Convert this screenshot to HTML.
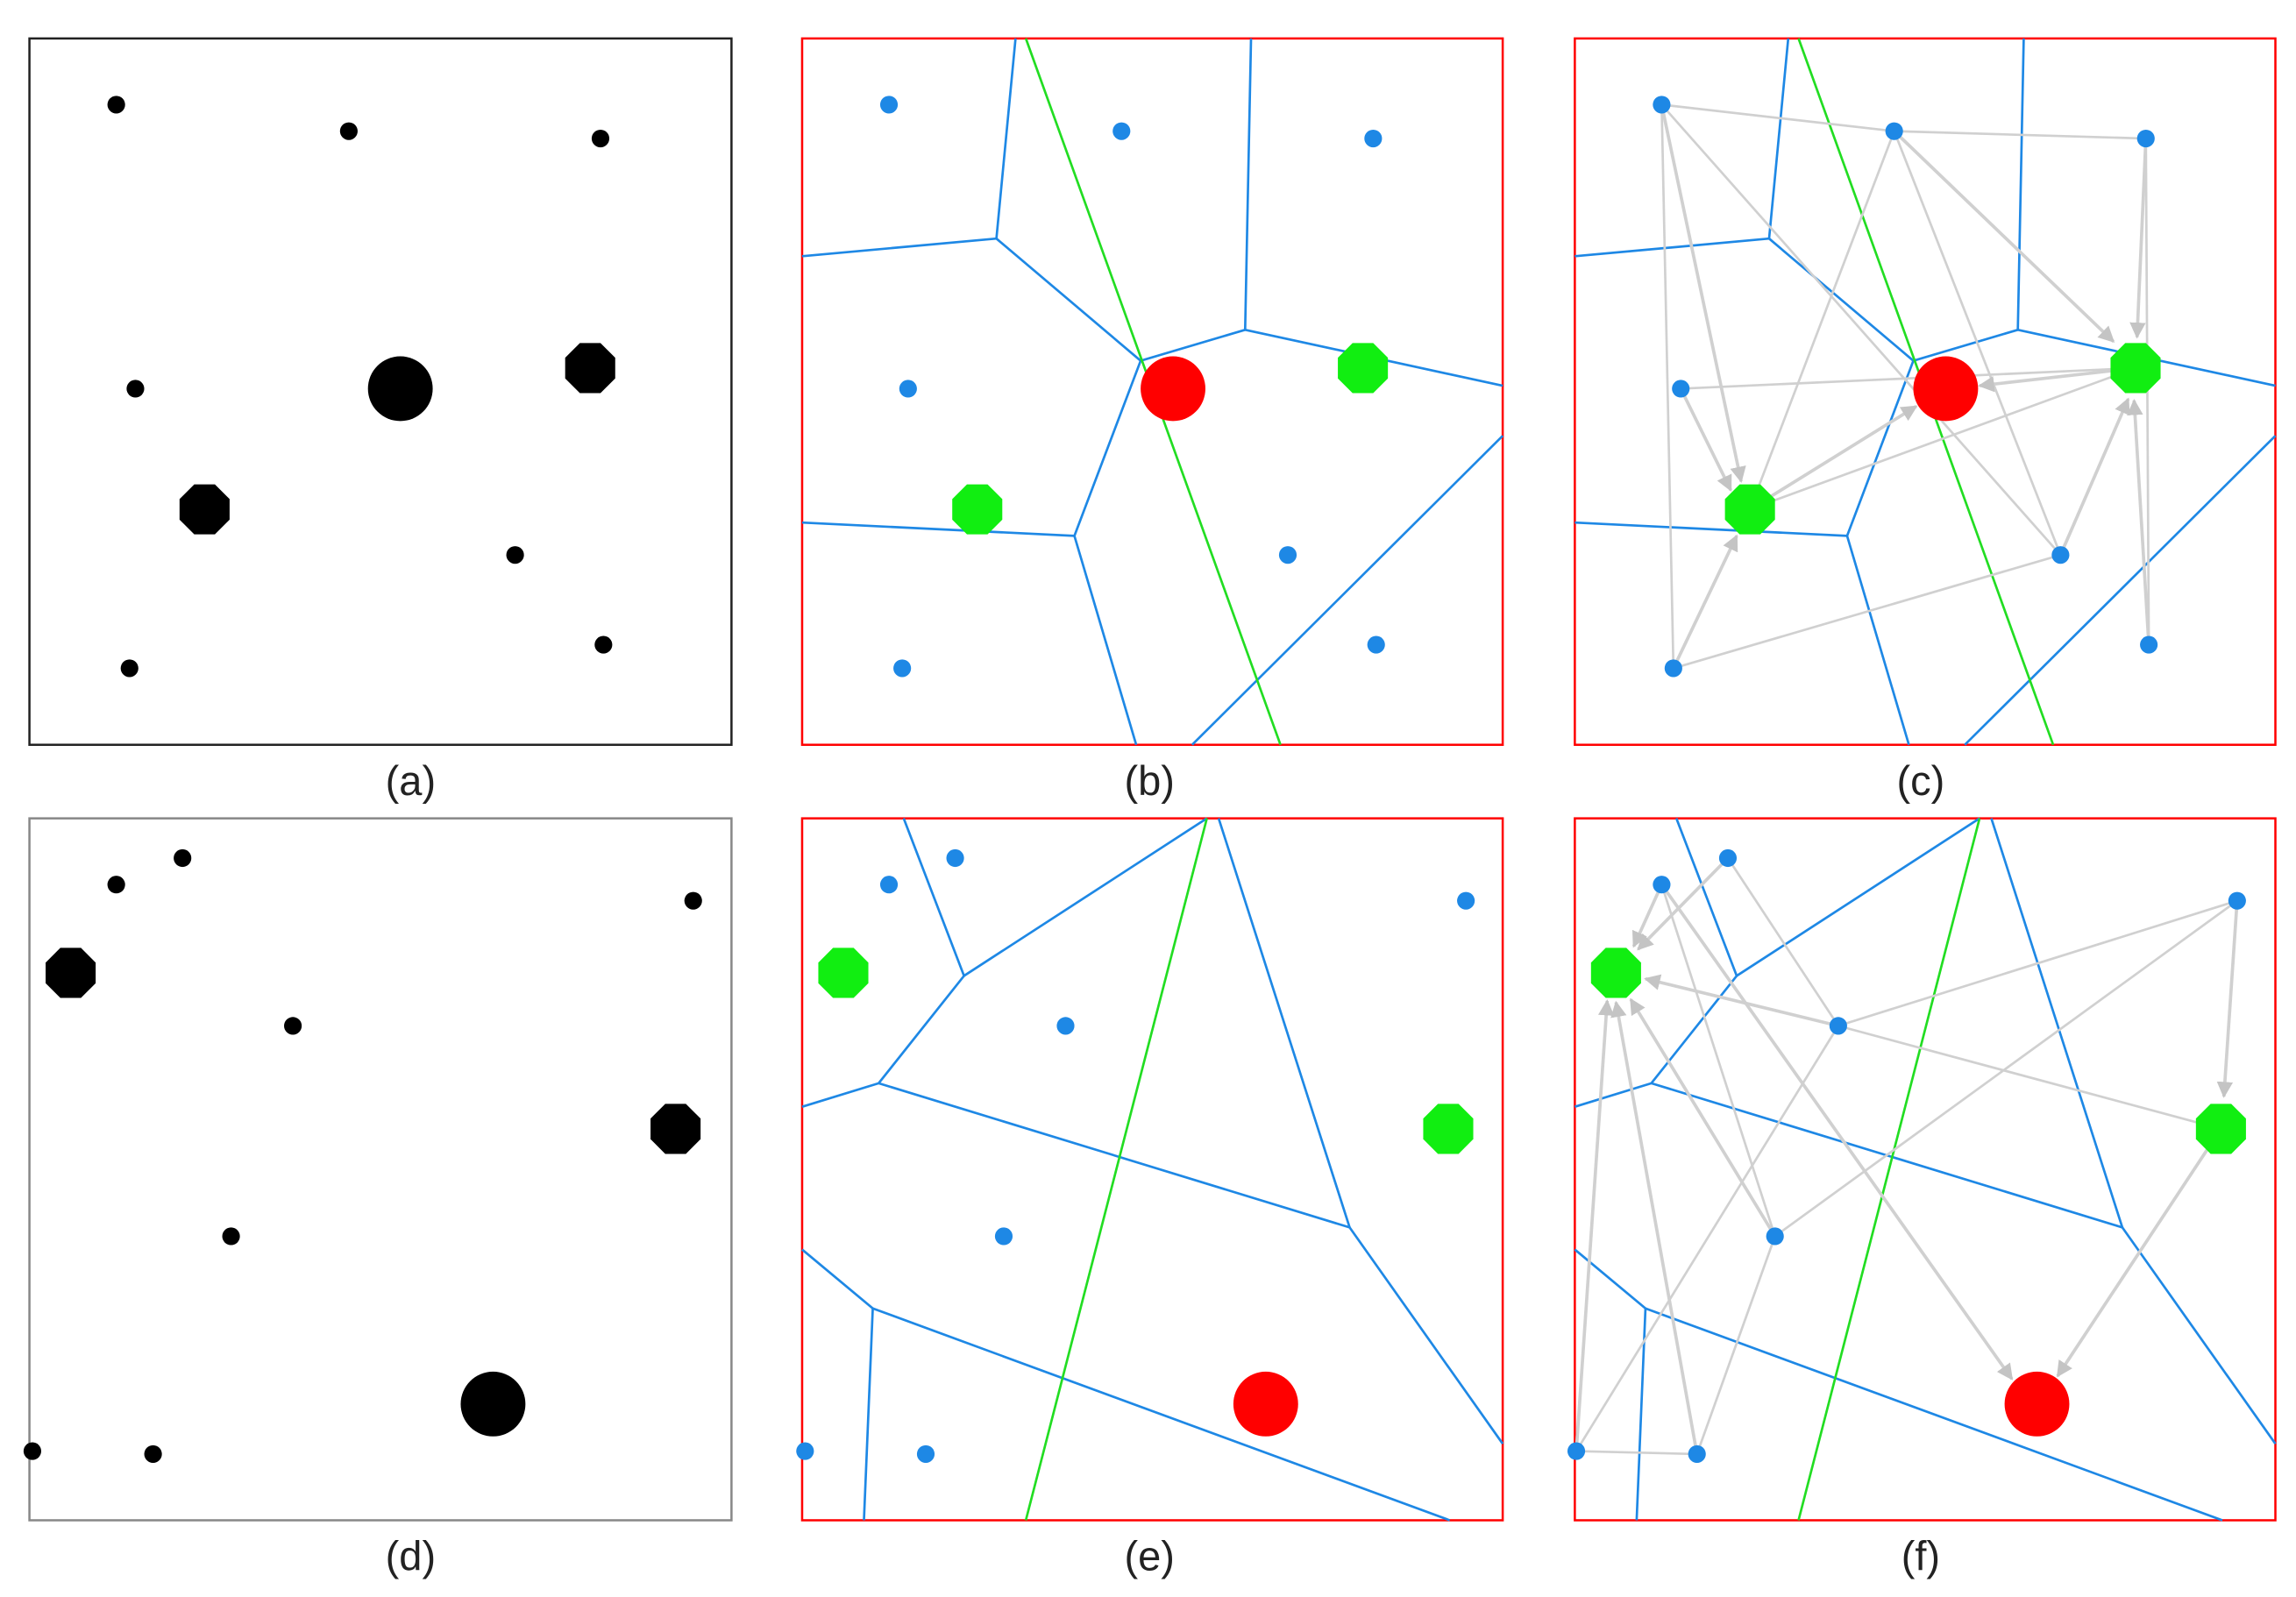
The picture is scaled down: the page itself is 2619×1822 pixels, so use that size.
<!DOCTYPE html>
<html><head><meta charset="utf-8"><style>
html,body{margin:0;padding:0;background:#fff;width:2619px;height:1822px;overflow:hidden}
svg{display:block}
text{font-family:"Liberation Sans",sans-serif;font-size:28px;fill:#222}
</style></head><body>
<svg width="2619" height="1822" viewBox="0 0 1560 1085" xmlns="http://www.w3.org/2000/svg">
<defs>
<marker id="ar" viewBox="0 0 10 10" refX="9" refY="5" markerWidth="5" markerHeight="5" orient="auto"><path d="M0,0L10,5L0,10z" fill="#c4c4c4"/></marker>
<polygon id="oct" points="7,-17 17,-7 17,7 7,17 -7,17 -17,7 -17,-7 -7,-17"/>
</defs>
<rect x="20" y="26" width="477" height="480" fill="none" stroke="#222" stroke-width="1.5"/>
<rect x="545" y="26" width="476" height="480" fill="none" stroke="#f00" stroke-width="1.5"/>
<rect x="1070" y="26" width="476" height="480" fill="none" stroke="#f00" stroke-width="1.5"/>
<rect x="20" y="556" width="477" height="477" fill="none" stroke="#888" stroke-width="1.5"/>
<rect x="545" y="556" width="476" height="477" fill="none" stroke="#f00" stroke-width="1.5"/>
<rect x="1070" y="556" width="476" height="477" fill="none" stroke="#f00" stroke-width="1.5"/>
<text x="279" y="540" text-anchor="middle">(a)</text>
<text x="781" y="540" text-anchor="middle">(b)</text>
<text x="1305" y="540" text-anchor="middle">(c)</text>
<text x="279" y="1067" text-anchor="middle">(d)</text>
<text x="781" y="1067" text-anchor="middle">(e)</text>
<text x="1305" y="1067" text-anchor="middle">(f)</text>
<g fill="#000">
<circle cx="79" cy="71" r="6"/><circle cx="237" cy="89" r="6"/><circle cx="408" cy="94" r="6"/><circle cx="92" cy="264" r="6"/><circle cx="350" cy="377" r="6"/><circle cx="410" cy="438" r="6"/><circle cx="88" cy="454" r="6"/>
<circle cx="272" cy="264" r="22"/><use href="#oct" x="401" y="250"/><use href="#oct" x="139" y="346"/>
</g>
<g id="bl" fill="none" stroke-width="1.6">
<polyline stroke="#1e88e5" points="690,26 677,162 545,174"/>
<line stroke="#1e88e5" x1="677" y1="162" x2="775" y2="245"/>
<polyline stroke="#1e88e5" points="850,26 846,224 1021,262"/>
<polyline stroke="#1e88e5" points="846,224 775,245 730,364 545,355"/>
<line stroke="#1e88e5" x1="730" y1="364" x2="772" y2="506"/>
<line stroke="#1e88e5" x1="810" y1="506" x2="1021" y2="296"/>
<line stroke="#22dd22" x1="697" y1="26" x2="870" y2="506"/>
</g>
<use href="#bl" x="525"/>
<g stroke="#d0d0d0" stroke-width="1.6" fill="none">
<line x1="1129" y1="71" x2="1287" y2="89"/><line x1="1287" y1="89" x2="1458" y2="94"/>
<line x1="1129" y1="71" x2="1400" y2="377"/><line x1="1287" y1="89" x2="1189" y2="346"/>
<line x1="1142" y1="264" x2="1451" y2="250"/><line x1="1137" y1="454" x2="1400" y2="377"/>
<line x1="1458" y1="94" x2="1460" y2="438"/><line x1="1129" y1="71" x2="1137" y2="454"/>
<line x1="1189" y1="346" x2="1451" y2="250"/><line x1="1287" y1="89" x2="1400" y2="377"/>
<g marker-end="url(#ar)" stroke-width="2.2">
<line x1="1129" y1="71" x2="1183" y2="327"/>
<line x1="1142" y1="264" x2="1176" y2="333"/>
<line x1="1137" y1="454" x2="1180" y2="364"/>
<line x1="1287" y1="89" x2="1436" y2="232"/>
<line x1="1458" y1="94" x2="1452" y2="229"/>
<line x1="1400" y1="377" x2="1446" y2="271"/>
<line x1="1460" y1="438" x2="1450" y2="272"/>
<line x1="1451" y1="250" x2="1345" y2="262"/>
<line x1="1189" y1="346" x2="1302" y2="276"/>
</g></g>
<g fill="#1e88e5">
<circle cx="604" cy="71" r="6"/><circle cx="762" cy="89" r="6"/><circle cx="933" cy="94" r="6"/><circle cx="617" cy="264" r="6"/><circle cx="875" cy="377" r="6"/><circle cx="935" cy="438" r="6"/><circle cx="613" cy="454" r="6"/>
<circle cx="1129" cy="71" r="6"/><circle cx="1287" cy="89" r="6"/><circle cx="1458" cy="94" r="6"/><circle cx="1142" cy="264" r="6"/><circle cx="1400" cy="377" r="6"/><circle cx="1460" cy="438" r="6"/><circle cx="1137" cy="454" r="6"/>
</g>
<circle cx="797" cy="264" r="22" fill="#f00"/><circle cx="1322" cy="264" r="22" fill="#f00"/>
<g fill="#11ee11"><use href="#oct" x="926" y="250"/><use href="#oct" x="664" y="346"/><use href="#oct" x="1451" y="250"/><use href="#oct" x="1189" y="346"/></g>
<g fill="#000">
<circle cx="79" cy="601" r="6"/><circle cx="124" cy="583" r="6"/><circle cx="471" cy="612" r="6"/><circle cx="199" cy="697" r="6"/><circle cx="157" cy="840" r="6"/><circle cx="22" cy="986" r="6"/><circle cx="104" cy="988" r="6"/>
<circle cx="335" cy="954" r="22"/><use href="#oct" x="48" y="661"/><use href="#oct" x="459" y="767"/>
</g>
<g id="el" fill="none" stroke-width="1.6">
<polyline stroke="#1e88e5" points="614,556 655,663 820,556"/>
<polyline stroke="#1e88e5" points="655,663 597,736 545,752"/>
<polyline stroke="#1e88e5" points="597,736 917,834 828,556"/>
<line stroke="#1e88e5" x1="917" y1="834" x2="1021" y2="981"/>
<polyline stroke="#1e88e5" points="545,849 593,889 587,1033"/>
<line stroke="#1e88e5" x1="593" y1="889" x2="985" y2="1033"/>
<line stroke="#22dd22" x1="820" y1="556" x2="697" y2="1033"/>
</g>
<use href="#el" x="525"/>
<g stroke="#d0d0d0" stroke-width="1.6" fill="none">
<line x1="1174" y1="583" x2="1249" y2="697"/><line x1="1520" y1="612" x2="1249" y2="697"/>
<line x1="1249" y1="697" x2="1509" y2="767"/><line x1="1206" y1="840" x2="1520" y2="612"/>
<line x1="1071" y1="986" x2="1153" y2="988"/><line x1="1206" y1="840" x2="1153" y2="988"/>
<line x1="1071" y1="986" x2="1249" y2="697"/>
<line x1="1129" y1="601" x2="1206" y2="840"/>
<g marker-end="url(#ar)" stroke-width="2.2">
<line x1="1129" y1="601" x2="1110" y2="643"/>
<line x1="1174" y1="583" x2="1113" y2="645"/>
<line x1="1249" y1="697" x2="1118" y2="665"/>
<line x1="1520" y1="612" x2="1511" y2="745"/>
<line x1="1129" y1="601" x2="1367" y2="937"/>
<line x1="1509" y1="767" x2="1398" y2="935"/>
<line x1="1071" y1="986" x2="1092" y2="680"/>
<line x1="1153" y1="988" x2="1098" y2="681"/>
<line x1="1206" y1="840" x2="1108" y2="679"/>
</g></g>
<g fill="#1e88e5">
<circle cx="604" cy="601" r="6"/><circle cx="649" cy="583" r="6"/><circle cx="996" cy="612" r="6"/><circle cx="724" cy="697" r="6"/><circle cx="682" cy="840" r="6"/><circle cx="547" cy="986" r="6"/><circle cx="629" cy="988" r="6"/>
<circle cx="1129" cy="601" r="6"/><circle cx="1174" cy="583" r="6"/><circle cx="1520" cy="612" r="6"/><circle cx="1249" cy="697" r="6"/><circle cx="1206" cy="840" r="6"/><circle cx="1071" cy="986" r="6"/><circle cx="1153" cy="988" r="6"/>
</g>
<circle cx="860" cy="954" r="22" fill="#f00"/><circle cx="1384" cy="954" r="22" fill="#f00"/>
<g fill="#11ee11"><use href="#oct" x="573" y="661"/><use href="#oct" x="984" y="767"/><use href="#oct" x="1098" y="661"/><use href="#oct" x="1509" y="767"/></g>
</svg>
</body></html>
